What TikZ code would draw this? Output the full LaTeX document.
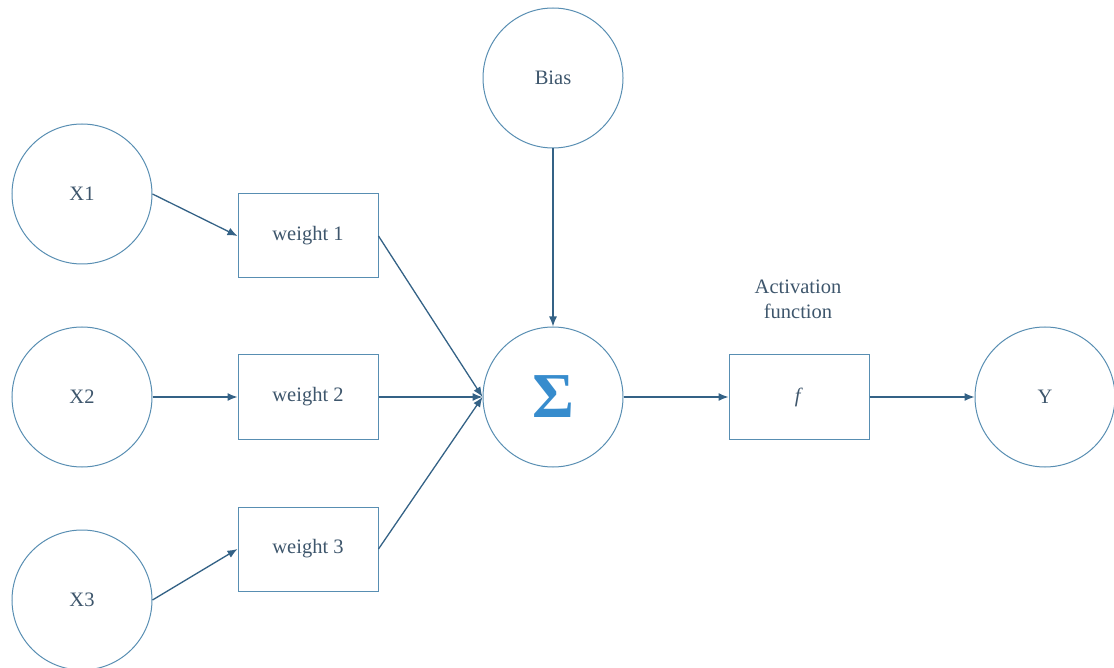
\documentclass[tikz,border=0pt]{standalone}
\usepackage{fontspec}
\setmainfont{Liberation Serif}
\usetikzlibrary{arrows.meta}
\definecolor{nodeline}{RGB}{88,142,178}
\definecolor{edgec}{RGB}{52,98,134}
\definecolor{textc}{RGB}{62,86,108}
\definecolor{sigmac}{RGB}{55,140,205}
\tikzset{
  neuron/.style={circle, draw=nodeline, line width=1pt, minimum size=140pt, inner sep=0pt,
    text=textc, font=\fontsize{20.5}{24}\selectfont},
  wbox/.style={rectangle, draw=nodeline, line width=1pt, minimum width=140pt, minimum height=84pt,
    inner sep=0pt, text=textc, font=\fontsize{20.5}{24}\selectfont},
  conn/.style={draw=edgec, line width=1.3pt, -{Latex[length=10pt,width=8pt]}},
  lbl/.style={text=textc, font=\fontsize{20.5}{25}\selectfont, align=center}
}
\begin{document}
\begin{tikzpicture}[x=1pt, y=-1pt]
  \useasboundingbox (0,0) rectangle (1114,668);
  % inputs
  \node[neuron] (x1) at (82,194) {X1};
  \node[neuron] (x2) at (82,397) {X2};
  \node[neuron] (x3) at (82,600) {X3};
  % weights
  \node[wbox] (w1) at (308,236) {weight 1};
  \node[wbox] (w2) at (308,397) {weight 2};
  \node[wbox] (w3) at (308,549) {weight 3};
  % bias and summation
  \node[neuron] (bias) at (553,78) {Bias};
  \node[neuron] (sum) at (553,397) {};
  \node[text=sigmac, font=\fontsize{64}{64}\selectfont\bfseries, inner sep=0pt] (sig) at (553,397) {Σ};
  % activation and output
  \node[wbox] (f) at (799,397) {\textit{f}};
  \node[lbl] (act) at (798,299) {Activation\\function};
  \node[neuron] (y) at (1045,397) {Y};
  % connectors
  \draw[conn] (x1.east) -- (w1.west);
  \draw[conn] (x2.east) -- (w2.west);
  \draw[conn] (x3.east) -- (w3.west);
  \draw[conn] (w1.east) -- (sum.west);
  \draw[conn] (w2.east) -- (sum.west);
  \draw[conn] (w3.east) -- (sum.west);
  \draw[conn] (bias.south) -- (sum.north);
  \draw[conn] (sum.east) -- (f.west);
  \draw[conn] (f.east) -- (y.west);
\end{tikzpicture}
\end{document}
